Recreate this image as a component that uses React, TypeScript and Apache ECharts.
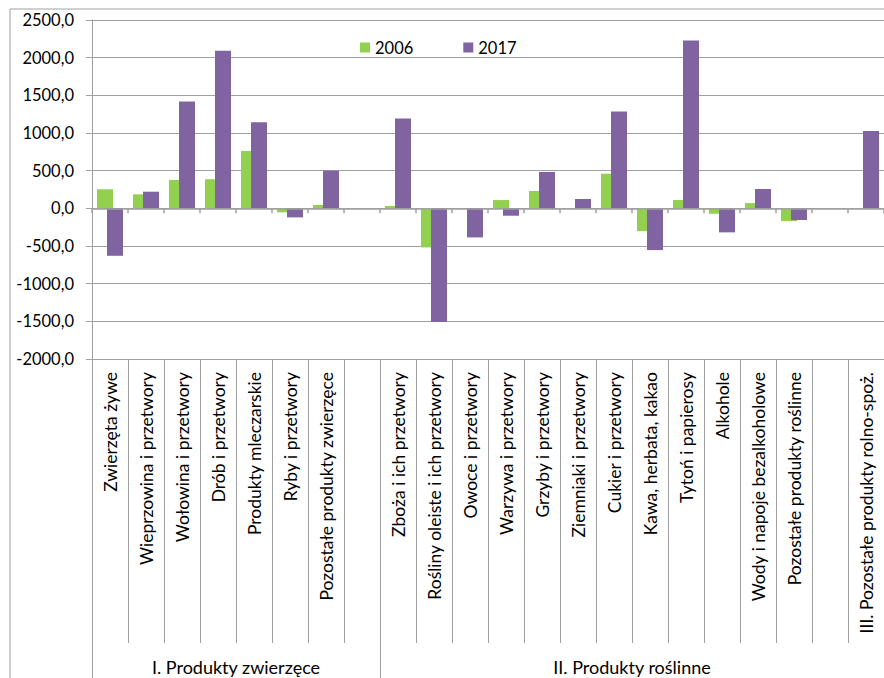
import React, { useEffect, useRef } from "react";
import * as echarts from "echarts";

// Product groups (empty slots separate the groups on the axis)
const categories = [
  "Zwierzęta żywe",
  "Wieprzowina i przetwory",
  "Wołowina i przetwory",
  "Drób i przetwory",
  "Produkty mleczarskie",
  "Ryby i przetwory",
  "Pozostałe produkty zwierzęce",
  "",
  "Zboża i ich przetwory",
  "Rośliny oleiste i ich przetwory",
  "Owoce i przetwory",
  "Warzywa i przetwory",
  "Grzyby i przetwory",
  "Ziemniaki i przetwory",
  "Cukier i przetwory",
  "Kawa, herbata, kakao",
  "Tytoń i papierosy",
  "Alkohole",
  "Wody i napoje bezalkoholowe",
  "Pozostałe produkty roślinne",
  "",
  "III. Pozostałe produkty rolno-spoż.",
];

const values2006 = [
  253, 186, 376, 386, 762, -53, 44, null, 31, -519, 0, 110, 230, 0, 460, -302,
  110, -72, 70, -169, null, 0,
];

const values2017 = [
  -630, 221, 1418, 2092, 1144, -120, 500, null, 1192, -1510, -386, -98, 483,
  124, 1285, -554, 2229, -319, 257, -155, null, 1028,
];

// Upper-level groups: label and category span [from, to)
const groupLabels = ["I. Produkty zwierzęce", "II. Produkty roślinne"];
const groupSpans = [
  [0, 8],
  [8, 22],
];

const yMin = -2000;
const yMax = 2500;
const yStep = 500;

const FONT = "Lato, 'Open Sans', sans-serif";
const GRID = "#a0a0a0";

export default function App() {
  const ref = useRef<HTMLDivElement>(null);

  useEffect(() => {
    if (!ref.current) return;
    const chart = echarts.init(ref.current, null, { renderer: "svg" });

    const W = 884;
    const H = 678;
    const gLeft = 92;
    const gTop = 20;
    const gWidth = W - gLeft;
    const gHeight = 339;
    const gBottomY = gTop + gHeight;
    const tickLen = 284;
    const step = gWidth / categories.length;

    const graphics: any[] = [
      // outer frame
      { type: "line", shape: { x1: 10, y1: 9, x2: W, y2: 9 }, style: { stroke: GRID, lineWidth: 1 } },
      { type: "line", shape: { x1: 10, y1: 9, x2: 10, y2: H }, style: { stroke: GRID, lineWidth: 1 } },
    ];
    // group separators reaching down to the bottom row
    [0, 8].forEach((i) => {
      const x = Math.round(gLeft + i * step) + 0.5;
      graphics.push({
        type: "line",
        shape: { x1: x, y1: gBottomY, x2: x, y2: H },
        style: { stroke: GRID, lineWidth: 1 },
      });
    });
    groupLabels.forEach((label, gi) => {
      const [a, b] = groupSpans[gi];
      const cx = gLeft + ((a + b) / 2) * step;
      graphics.push({
        type: "text",
        x: cx,
        y: 667,
        style: {
          text: label,
          font: `18px ${FONT}`,
          fill: "#000",
          textAlign: "center",
          textVerticalAlign: "middle",
        },
      });
    });

    chart.setOption({
      animation: false,
      textStyle: { fontFamily: FONT },
      grid: { left: gLeft, top: gTop, width: gWidth, height: gHeight, containLabel: false },
      legend: {
        left: 355,
        top: 34,
        icon: "rect",
        itemWidth: 10,
        itemHeight: 10,
        itemGap: 50,
        textStyle: { fontSize: 16.5, color: "#000", fontFamily: FONT },
        data: ["2006", "2017"],
      },
      xAxis: [
        {
          type: "category",
          data: categories,
          position: "bottom",
          axisLine: { onZero: true, lineStyle: { color: GRID, width: 1.5 } },
          axisTick: { show: true, length: 5, interval: 0, lineStyle: { color: GRID, width: 1.5 } },
          axisLabel: { show: false },
          z: 5,
        },
        {
          type: "category",
          data: categories,
          position: "bottom",
          axisLine: { show: false, onZero: false },
          axisTick: { show: true, length: tickLen, interval: 0, lineStyle: { color: GRID } },
          axisLabel: {
            interval: 0,
            rotate: 90,
            margin: 13,
            fontSize: 17.5,
            color: "#000",
            fontFamily: FONT,
          },
        },
      ],
      yAxis: {
        type: "value",
        min: yMin,
        max: yMax,
        interval: yStep,
        axisLine: { show: true, lineStyle: { color: GRID } },
        axisTick: { show: true, length: 6, lineStyle: { color: GRID } },
        splitLine: { show: true, lineStyle: { color: GRID, width: 1 } },
        axisLabel: {
          margin: 18,
          fontSize: 16.5,
          color: "#000",
          fontFamily: FONT,
          formatter: (v: number) => v.toFixed(1).replace(".", ","),
        },
      },
      series: [
        {
          name: "2006",
          type: "bar",
          xAxisIndex: 0,
          data: values2006,
          barWidth: 16,
          barGap: "-37.5%",
          itemStyle: { color: "#92D050" },
        },
        {
          name: "2017",
          type: "bar",
          xAxisIndex: 0,
          data: values2017,
          barWidth: 16,
          barGap: "-37.5%",
          itemStyle: { color: "#8064A2" },
        },
      ],
      graphic: graphics,
    });

    return () => chart.dispose();
  }, []);

  return (
    <div
      ref={ref}
      style={{ position: "fixed", left: 0, top: 0, width: 884, height: 678, background: "#fff" }}
    />
  );
}
